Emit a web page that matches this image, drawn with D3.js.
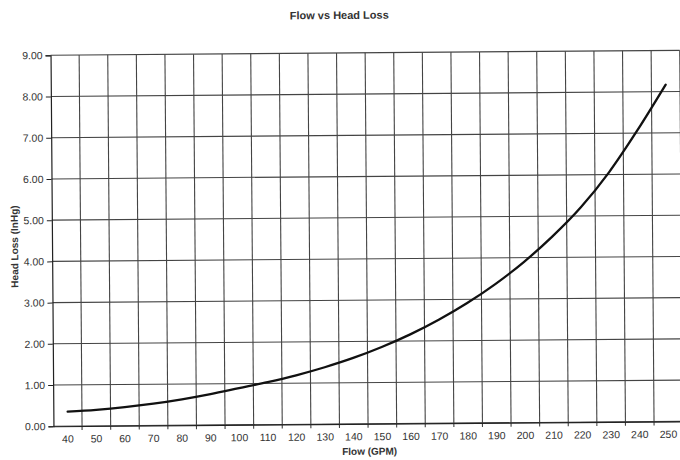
<!DOCTYPE html>
<html>
<head>
<meta charset="utf-8">
<script src="https://cdn.jsdelivr.net/npm/d3@7/dist/d3.min.js"></script>
<style>
  html, body { margin: 0; padding: 0; background: #fff; }
  svg { display: block; font-family: "Liberation Sans", Arial, sans-serif; }
</style>
</head>
<body>
<div id="chart"></div>
<script>
const categories = [40, 50, 60, 70, 80, 90, 100, 110, 120, 130, 140, 150, 160, 170, 180, 190, 200, 210, 220, 230, 240, 250];
const headLoss = [0.35, 0.39, 0.45, 0.53, 0.63, 0.75, 0.89, 1.03, 1.19, 1.38, 1.60, 1.86, 2.16, 2.51, 2.91, 3.37, 3.90, 4.51, 5.21, 6.06, 7.07, 8.17];
const yTicks = [0, 1, 2, 3, 4, 5, 6, 7, 8, 9];
const chartTitle = "Flow vs Head Loss";
const xTitle = "Flow (GPM)";
const yTitle = "Head Loss (InHg)";

const W = 680, H = 460;
const m = { left: 52, top: 53, bottom: 424 };
const step = 28.6;
const plotRight = m.left + step * categories.length;

const svg = d3.select("#chart").append("svg").attr("width", W).attr("height", H);
const g = svg.append("g").attr("transform", "rotate(-0.45, 340, 240)");

const x = d3.scaleBand().domain(categories).range([m.left, plotRight]).padding(0);
const y = d3.scaleLinear().domain([0, 9]).range([m.bottom, m.top]);

const gridColor = "#444";
const textColor = "#333";

// horizontal gridlines
g.append("g").selectAll("line").data(yTicks).join("line")
  .attr("x1", m.left).attr("x2", plotRight)
  .attr("y1", d => y(d)).attr("y2", d => y(d))
  .attr("stroke", gridColor).attr("stroke-width", 1.1);

// vertical gridlines at category boundaries (with small tick below axis)
const bounds = categories.slice(1).map(c => x(c)).concat([plotRight]);
g.append("g").selectAll("line").data(bounds).join("line")
  .attr("x1", d => d).attr("x2", d => d)
  .attr("y1", m.top).attr("y2", m.bottom + 4)
  .attr("stroke", gridColor).attr("stroke-width", 1.1);

// left axis
const yAxis = g.append("g").attr("transform", `translate(${m.left},0)`)
  .call(d3.axisLeft(y).tickValues(yTicks).tickFormat(d3.format(".2f")).tickSize(5).tickPadding(3));
yAxis.select(".domain").attr("stroke", "#222").attr("stroke-width", 1.2);
yAxis.selectAll(".tick line").attr("stroke", "#222");
yAxis.selectAll("text").attr("font-size", "10.5px").attr("fill", textColor);

// bottom axis labels
const xAxis = g.append("g").attr("transform", `translate(0,${m.bottom})`)
  .call(d3.axisBottom(x).tickSize(0).tickPadding(9));
xAxis.select(".domain").attr("stroke", "#222").attr("stroke-width", 1.2);
xAxis.selectAll("text").attr("font-size", "10.5px").attr("fill", textColor);

// curve
const line = d3.line()
  .x((d, i) => x(categories[i]) + x.bandwidth() / 2)
  .y(d => y(d))
  .curve(d3.curveMonotoneX);
g.append("path").datum(headLoss)
  .attr("d", line)
  .attr("fill", "none")
  .attr("stroke", "#111")
  .attr("stroke-width", 2.3)
  .attr("stroke-linecap", "round");

// titles
g.append("text").attr("x", 341).attr("y", 19).attr("text-anchor", "middle")
  .attr("font-size", "11px").attr("font-weight", "bold").attr("fill", textColor).text(chartTitle);
g.append("text").attr("x", 368).attr("y", 455).attr("text-anchor", "middle")
  .attr("font-size", "10px").attr("font-weight", "bold").attr("fill", textColor).text(xTitle);
g.append("text").attr("transform", "translate(18,244) rotate(-90)").attr("text-anchor", "middle")
  .attr("font-size", "10px").attr("font-weight", "bold").attr("fill", textColor).text(yTitle);
</script>
</body>
</html>
